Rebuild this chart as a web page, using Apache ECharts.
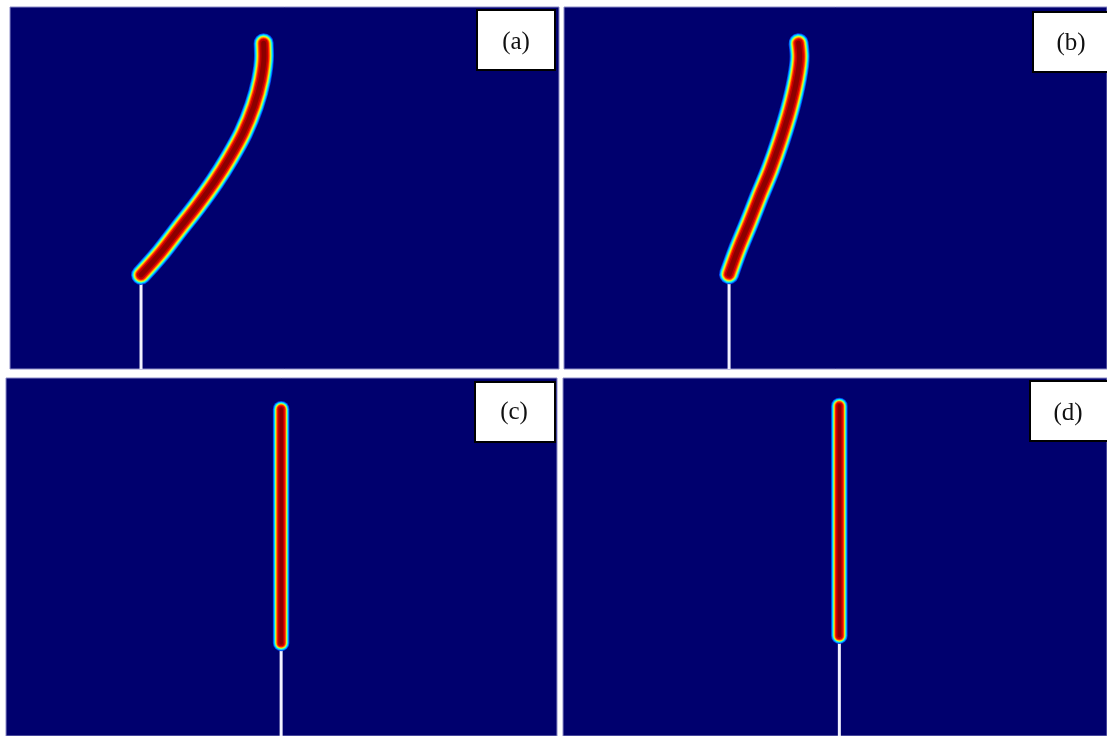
<!DOCTYPE html>
<html>
<head>
<meta charset="utf-8">
<title>Crack paths</title>
<script src="https://cdn.jsdelivr.net/npm/echarts@6/dist/echarts.min.js"></script>
<style>
  html, body { margin: 0; padding: 0; background: #fff; }
  #chart { width: 1107px; height: 736px; }
</style>
</head>
<body>
<div id="chart"></div>
<script>
// panel labels
const labels = ['(a)', '(b)', '(c)', '(d)']

// crack paths, in specimen units (x 0-150, y 0-100)
const crackA = [[35.8, 26.0], [41.3, 32.3], [46.2, 38.7], [51.1, 45.0], [56.0, 51.9], [59.8, 58.0], [63.7, 65.2], [66.7, 72.7], [68.6, 79.8], [69.4, 86.5], [69.3, 90.0]]
const crackB = [[45.6, 26.2], [48.1, 33.1], [51.1, 40.4], [54.0, 47.8], [57.0, 55.1], [59.9, 63.4], [62.4, 71.7], [64.3, 79.9], [65.1, 86.3], [64.8, 90.0]]
const crackC = [[74.9, 26.0], [74.9, 91.3]]
const crackD = [[76.2, 28.0], [76.2, 92.2]]

// initial notch: x position and height of its tip
const notchX = [35.8, 45.6, 74.9, 76.2]
const notchTop = [25.4, 25.8, 24.0, 26.3]

const cracks = [crackA, crackB, crackC, crackD]

// jet colour bands, outside to inside (width for the wide / narrow cracks)
const bands = [
  { color: '#0040f0', wide: 20, narrow: 16.5 },
  { color: '#00a0ff', wide: 18.5, narrow: 15 },
  { color: '#00f0ff', wide: 17, narrow: 13.6 },
  { color: '#80ff80', wide: 15.4, narrow: 12.3 },
  { color: '#ffee00', wide: 13.8, narrow: 11 },
  { color: '#ff8800', wide: 12.2, narrow: 9.8 },
  { color: '#ff1a00', wide: 10.5, narrow: 8.6 },
  { color: '#c00000', wide: 8.2, narrow: 6.4 },
  { color: '#8c0000', wide: 5, narrow: 3.6 }
]

const grids = [
  { left: 10, top: 7, width: 549, height: 362 },
  { left: 564, top: 7, width: 543, height: 362 },
  { left: 6, top: 378, width: 551, height: 358 },
  { left: 563, top: 378, width: 544, height: 358 }
]

const labelBoxes = [
  { x: 477, y: 10, w: 78, h: 60 },
  { x: 1033, y: 12, w: 80, h: 60 },
  { x: 475, y: 382, w: 80, h: 60 },
  { x: 1030, y: 381, w: 80, h: 60 }
]
const labelCenters = [[516, 42], [1071, 43], [514, 412], [1068, 413]]

const chart = echarts.init(document.getElementById('chart'), null, { renderer: 'canvas' })

const xAxis = []
const yAxis = []
const series = []
const graphic = []

grids.forEach((g, i) => {
  g.show = true
  g.backgroundColor = '#00006e'
  g.borderColor = '#8c8cc8'
  g.borderWidth = 1
  g.containLabel = false
  xAxis.push({ type: 'value', gridIndex: i, min: 0, max: 150, show: false })
  yAxis.push({ type: 'value', gridIndex: i, min: 0, max: 100, show: false })

  // notch
  series.push({
    type: 'line',
    xAxisIndex: i,
    yAxisIndex: i,
    data: [[notchX[i], 0], [notchX[i], notchTop[i]]],
    showSymbol: false,
    silent: true,
    z: 1,
    lineStyle: { color: '#f2f2ff', width: 3 }
  })

  const wide = i < 2
  bands.forEach((b, k) => {
    series.push({
      type: 'line',
      xAxisIndex: i,
      yAxisIndex: i,
      data: cracks[i],
      smooth: 0.35,
      showSymbol: false,
      silent: true,
      z: 2 + k,
      lineStyle: {
        color: b.color,
        width: wide ? b.wide : b.narrow,
        cap: 'round',
        join: 'round'
      }
    })
  })

  const box = labelBoxes[i]
  graphic.push({
    type: 'rect',
    shape: { x: box.x, y: box.y, width: box.w, height: box.h },
    style: { fill: '#ffffff', stroke: '#000000', lineWidth: 2 },
    z: 100
  })
  graphic.push({
    type: 'text',
    x: labelCenters[i][0],
    y: labelCenters[i][1],
    style: {
      text: labels[i],
      fill: '#111',
      font: '25px "Liberation Serif", "DejaVu Serif", serif',
      textAlign: 'center',
      textVerticalAlign: 'middle'
    },
    z: 101
  })
})

chart.setOption({
  animation: false,
  backgroundColor: '#ffffff',
  grid: grids,
  xAxis: xAxis,
  yAxis: yAxis,
  series: series,
  graphic: graphic
})
</script>
</body>
</html>
